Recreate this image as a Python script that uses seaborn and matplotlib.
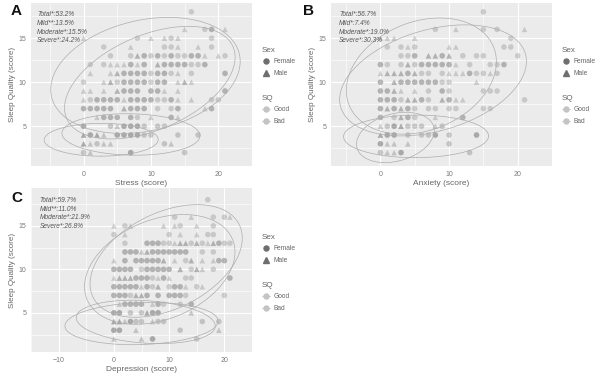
import numpy as np
import pandas as pd
import matplotlib
matplotlib.use("Agg")
import matplotlib.pyplot as plt
from matplotlib.lines import Line2D
import seaborn as sns

sns.set_theme(style="darkgrid")
plt.rcParams['font.family'] = ['Liberation Sans', 'DejaVu Sans']

# Points, one string per sleep-quality row.
# code = score + mark: c/C female (circle), t/T male (triangle);
# upper case = two overlapping subjects (darker dot)
stress_rows = {
    18: "16c",
    16: "15t 18c 19C 21t",
    15: "0t 8c 10t 12t 13c 14t 19c",
    14: "3c 7t 12c 13c 14t 17t 19c",
    13: "4c 7c 8T 9C 10c 11C 12c 13C 14c 15c 16C 17C 18t 20t 21c",
    12: "1c 3c 4t 5t 6t 7C 8t 9C 11T 12C 13C 14C 15C 16c 17c 18C",
    11: "1t 4t 5T 6C 7C 8C 9C 10c 11C 12C 13c 14t 16c 21C",
    10: "0c 3t 4T 5c 6C 7C 8C 9C 10c 11C 12C 14t 15T 16t",
    9: "0t 1t 3t 5T 6C 7C 8C 10C 11C 12t 14t 21C",
    8: "0t 1c 2C 3C 4C 5C 6t 7C 8C 9C 10C 11c 12c 13C 14t 16t 19c 20c",
    7: "0C 1C 2C 3C 4C 6T 7C 8C 9C 11c 13c 14C 18t 19C",
    6: "2t 3C 4C 5C 7C 8c 10t 13C 14t",
    5: "0C 4c 5t 6C 7C 8C 9c 11c 12c",
    4: "0T 1C 2T 3t 5C 6C 7C 8C 9c 10c 14c 17c",
    3: "0T 1t 2c 3t 4t 12c 13t",
    2: "0c 1t 7C 15c",
}
anxiety_rows = {
    18: "15c",
    16: "8c 11t 15c 17c 21t",
    15: "0t 1t 2t 5t 19c",
    14: "1c 3c 4t 5c 10t 11t 18c 19c",
    13: "3c 4c 5C 7T 8T 9C 10T 12c 14c 15c 20c",
    12: "0C 1c 3c 4T 5c 6C 7C 8C 9C 10C 11t 13c 16c 17c 18C",
    11: "0t 1T 2T 3T 4C 5T 6c 7c 9c 10t 11t 12t 13C 14c 15c 16t 17c",
    10: "0C 2T 3C 4C 5C 6C 7C 8C 9c 10c 14t",
    9: "0C 1C 2T 3t 5t 7c 9C 10c 15c 16c 17c",
    8: "0C 1C 2C 3c 4T 5T 6C 7c 9T 10C 11t 12t 21c",
    7: "0C 1T 2C 3T 4C 5c 7c 8c 10c 11c 15c 16c",
    6: "0C 2c 3T 4C 5c 8t 12C",
    5: "0t 1c 2C 3T 4c 5c 6c 8t 9c",
    4: "0T 1C 2C 4c 6c 7c 8C 10c 14C",
    3: "0C 1t 2t 4t 10c",
    2: "0c 1t 2t 3C 13c",
}
depression_rows = {
    18: "17c",
    16: "11c 14t 18c 20c 21t",
    15: "0t 2c 3t 9t 11t 12c 15t 18c",
    14: "0c 2t 10c 12t 15t 17c 18c",
    13: "2c 6C 7C 8C 9c 10c 11t 12T 13T 14c 15T 16c 17t 18T 19C 20c 21c",
    12: "2C 3C 4C 5t 6T 7C 8C 9C 10C 11C 12C 13C 16c 18c",
    11: "0t 2C 4C 5C 6C 7C 8C 9T 11t 13c 14T 16t 18t 19C 20C",
    10: "0C 1C 2C 3C 5c 6C 7C 8C 9C 10C 12T 14c 15T 16t 18c",
    9: "0t 1T 2T 3T 4C 5C 6C 7c 8t 9C 10t 13c 14c 21C",
    8: "0C 1C 2C 3C 4C 5t 6C 7c 8T 10c 11C 12C 13t 15c 16t",
    7: "0C 1C 2C 3c 4T 5T 6C 8C 10C 11C 12C 13c 20c",
    6: "1t 2C 3C 4C 5C 7t 8C 9c 12c 14C",
    5: "0C 1C 3c 5c 6T 7C 8C 14t",
    4: "0T 1T 2t 3C 4c 5c 7t 8c 9c 16c 19c",
    3: "0C 1C 4t 12c 19t",
    2: "0t 5t 7C 15c",
}

stress_pct = ["Total*:53.2%", "Mild**:13.5%", "Moderate*:15.5%", "Severe*:24.2%"]
anxiety_pct = ["Total*:56.7%", "Mild*:7.4%", "Moderate*:19.0%", "Severe*:30.3%"]
depression_pct = ["Total*:59.7%", "Mild**:11.0%", "Moderate*:21.9%", "Severe*:26.8%"]

x_titles = ["Stress (score)", "Anxiety (score)", "Depression (score)"]
panel_tags = ["A", "B", "C"]


def build(rows):
    recs = []
    for y, codes in rows.items():
        for code in codes.split():
            k = code[-1]
            sex = "Female" if k in "cC" else "Male"
            sq = "Good" if y <= 5 else "Bad"
            recs += [(int(code[:-1]), y, sex, sq)] * (2 if k.isupper() else 1)
    return pd.DataFrame(recs, columns=["score", "sleep", "Sex", "SQ"])


def ellipse(d, r=2.4, n=120):
    xy = d[["score", "sleep"]].to_numpy(float)
    mu = xy.mean(0)
    vals, vecs = np.linalg.eigh(np.cov(xy.T))
    t = np.linspace(0, 2 * np.pi, n)
    circ = np.stack([np.cos(t), np.sin(t)])
    pts = vecs @ (np.sqrt(vals)[:, None] * circ) * r + mu[:, None]
    return pts[0], pts[1]


W, H = 606, 376
fig = plt.figure(figsize=(W / 100, H / 100), dpi=100)

# pixel boxes: left, top, right, bottom
boxes = [(31, 3, 252, 166), (331, 3, 552, 166), (31, 188, 252, 352)]
xlims = [(-7.8, 24.4), (-7.2, 22.6), (-11.3, 24.4)]
ylims = [(0.48, 19.0), (0.48, 19.0), (0.5, 19.35)]
xticks = [[0, 10, 20], [0, 10, 20], [-10, 0, 10, 20]]
text_pos = [(0.027, 12), (0.036, 12), (0.04, 12.5)]
tag_pos = [(11, 4), (303, 4), (11, 191)]
legend_pos = [(259, 44), (559, 44), (259, 231)]
pcts = [stress_pct, anxiety_pct, depression_pct]

palette = {"Good": "#7a7a7a", "Bad": "#8a8a8a"}
markers = {"Female": "o", "Male": "^"}

for i, rows in enumerate([stress_rows, anxiety_rows, depression_rows]):
    df = build(rows)
    l, t, r, b = boxes[i]
    ax = fig.add_axes([l / W, 1 - b / H, (r - l) / W, (b - t) / H])
    ax.set_facecolor("#ebebeb")
    sns.scatterplot(data=df, x="score", y="sleep", hue="SQ", style="Sex",
                    palette=palette, markers=markers, s=16, alpha=0.36,
                    linewidth=0, legend=False, ax=ax)
    for (sq, sex), g in df.groupby(["SQ", "Sex"]):
        ex, ey = ellipse(g)
        ax.plot(ex, ey, color="#adadad", lw=0.5)

    ax.set_xlim(*xlims[i])
    ax.set_ylim(*ylims[i])
    ax.set_xticks(xticks[i])
    ax.set_yticks([5, 10, 15])
    xt = xticks[i]
    ax.set_xticks([v + 5 for v in [xt[0] - 10] + xt], minor=True)
    ax.set_yticks([2.5, 7.5, 12.5, 17.5], minor=True)
    ax.grid(which="major", color="white", lw=0.8)
    ax.grid(which="minor", color="white", lw=0.4)
    for s in ax.spines.values():
        s.set_visible(False)
    ax.tick_params(which="major", length=2, width=0.5, color="#888888",
                   labelsize=5, labelcolor="#7a7a7a", pad=1.5)
    ax.tick_params(which="minor", length=0)
    ax.set_xlabel(x_titles[i], fontsize=6, color="#666666", labelpad=1.5)
    ax.set_ylabel("Sleep Quality (score)", fontsize=5.8, color="#666666", labelpad=2)

    tx, ty = text_pos[i]
    for j, line in enumerate(pcts[i]):
        ax.text(tx, 1 - (ty + 8.6 * j) / (b - t), line, transform=ax.transAxes,
                fontsize=4.8, style="italic", color="#555555", va="center", ha="left")

    gx, gy = tag_pos[i]
    fig.text(gx / W, 1 - gy / H, panel_tags[i], fontsize=11, weight="bold",
             va="top", ha="left", color="#111111")

    lx, ly = legend_pos[i]
    sex_handles = [Line2D([], [], ls="", marker="o", ms=3.6, color="#6e6e6e"),
                   Line2D([], [], ls="", marker="^", ms=3.8, color="#6e6e6e")]
    sq_handles = [Line2D([], [], marker="o", ms=3.6, color="#c4c4c4", lw=0.6),
                  Line2D([], [], marker="o", ms=3.6, color="#c4c4c4", lw=0.6)]
    leg1 = fig.legend(sex_handles, ["Female", "Male"], title="Sex",
                      loc="upper left", bbox_to_anchor=(lx / W, 1 - ly / H),
                      frameon=False, fontsize=4.8, title_fontsize=5.8,
                      handlelength=1.2, handletextpad=0.6, labelspacing=0.7,
                      borderaxespad=0, alignment="left")
    leg2 = fig.legend(sq_handles, ["Good", "Bad"], title="SQ",
                      loc="upper left", bbox_to_anchor=(lx / W, 1 - (ly + 48) / H),
                      frameon=False, fontsize=4.8, title_fontsize=5.8,
                      handlelength=1.2, handletextpad=0.6, labelspacing=0.7,
                      borderaxespad=0, alignment="left")
    for leg in (leg1, leg2):
        leg.get_title().set_color("#666666")
        for txt in leg.get_texts():
            txt.set_color("#666666")

fig.savefig("out.png", dpi=100)
